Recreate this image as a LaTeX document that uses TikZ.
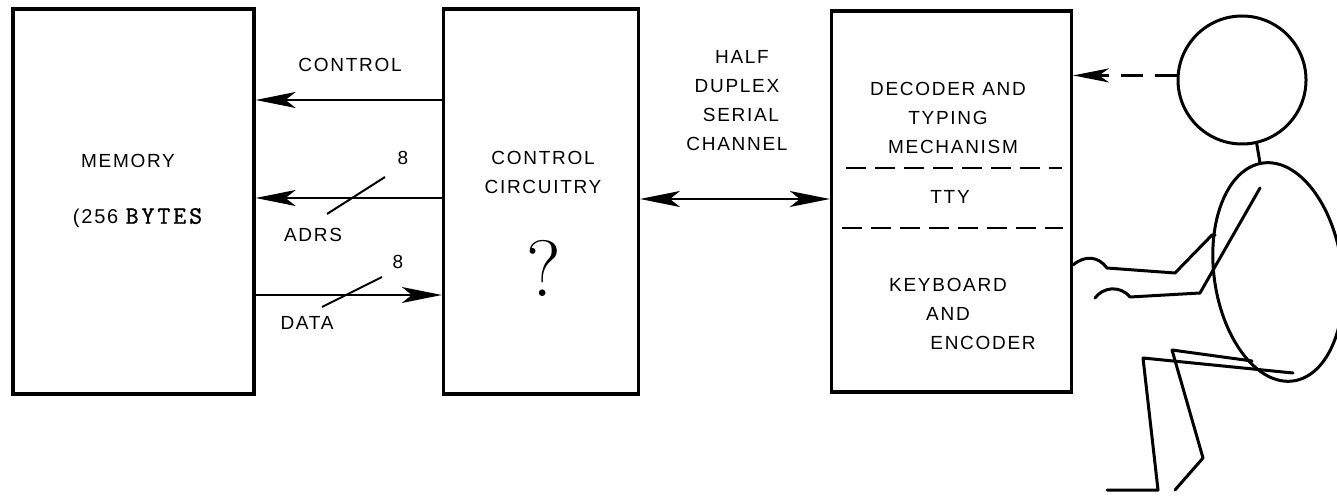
\documentclass[tikz,border=0pt]{standalone}
\usepackage{fontspec}
\newfontfamily\labelfont[LetterSpace=9]{Liberation Sans}
\newfontfamily\typewriter[LetterSpace=12,FakeBold=1.2]{Latin Modern Mono}
\usetikzlibrary{positioning,arrows.meta}

\tikzset{
  unit/.style={draw,line width=1.6pt,minimum width=#1,minimum height=192.5pt,inner sep=0pt},
  lbl/.style={font=\labelfont\fontsize{9.5}{14.5}\selectfont,align=center,inner sep=0pt},
  bus/.style={line width=0.9pt,-{Stealth[length=20pt,width=8pt,inset=5pt]}},
  duplex/.style={line width=0.9pt,{Stealth[length=20pt,width=8pt,inset=5pt]}-{Stealth[length=20pt,width=8pt,inset=5pt]}},
  sep/.style={line width=1pt,dash pattern=on 10pt off 4.5pt},
  fig/.style={line width=1.5pt,line join=round,line cap=round},
}

\begin{document}
\begin{tikzpicture}[x=0.5pt,y=-0.5pt]
    \useasboundingbox[fill=white] (0,0) rectangle (1337,496);

    \node[unit=120.5pt,anchor=north west] (mem) at (11.4,7.4) {};
    \node[unit=97.5pt,right=93.1pt of mem] (ctl) {};
    \node[unit=120pt,minimum height=190.5pt,right=94.9pt of ctl] (tty) {};

    % memory side
    \node[lbl] (memname) at (128,161) {MEMORY};
    \node[lbl] (memsize) at (137.5,218) {\fontsize{10}{10}\selectfont(256 {\typewriter\fontsize{12.5}{13}\selectfont BYTES}};

    % buses between memory and control
    \foreach \y in {100,198}
        \draw[bus] (ctl.west |- 0,\y) -- (mem.east |- 0,\y);
    \draw[bus] (mem.east |- 0,295) -- (ctl.west |- 0,295);
    \node[lbl] (ctlbus) at (350,65) {CONTROL};
    \node[lbl] (adrs) at (313,235) {ADRS};
    \node[lbl] (data) at (307,323) {DATA};
    \node[lbl] (adrsw) at (403,158) {8};
    \node[lbl] (dataw) at (398,262) {8};
    \draw[line width=1pt] (327,214) -- (385,177);
    \draw[line width=1pt] (322,307) -- (382,277);

    % control circuitry
    \node[lbl] (ctlname) at (543,172) {CONTROL\\CIRCUITRY};
    \node[font=\fontsize{40}{40}\selectfont,inner sep=0pt] (unknown) at (544,268) {?};

    % serial link
    \draw[duplex] (ctl.east |- 0,199) -- (tty.west |- 0,199);
    \node[lbl] (link) at (737,101) {\hspace*{5pt}HALF\\DUPLEX\hspace*{4pt}\\\hspace*{4pt}SERIAL\\CHANNEL};

    % teletype
    \node[lbl] (printer) at (948,118) {DECODER AND\\TYPING\\\hspace*{5pt}MECHANISM};
    \node[lbl] (ttyname) at (950,197) {TTY};
    \node[lbl] (keys) at (948,314) {KEYBOARD\\AND\\\hspace*{35pt}ENCODER};
    \foreach \y/\a/\b in {168/846/1062,228/842/1063}
        \draw[sep] (\a,\y) -- (\b,\y);

    % operator
    \node[draw,circle,line width=1.5pt,minimum size=64pt,inner sep=0pt] (head) at (1242,80) {};
    \draw[line width=1.2pt,dash pattern=on 11pt off 6pt,-{Stealth[length=18pt,width=7pt,inset=5pt]}] (head.176) -- (tty.east |- head.176);
    \coordinate (neck) at (1260,163);
    \coordinate (body) at (1278,272);
    \draw[fig] (head.-77) -- (neck);
    \draw[fig,rotate around={8:(body)}] (body) ellipse [x radius=32pt,y radius=55pt];
    \draw[fig] (tty.east |- 0,265) .. controls (1085,255) and (1098,256) .. (1107,268) -- (1175,273) -- (1212,235) -- (1215,235);
    \draw[fig] (1095,298) .. controls (1103,287) and (1120,285) .. (1130,297) -- (1200,293) -- (1260,188);
    \draw[fig] (1293,373) -- (1143,358) -- (1158,490) -- (1107,490);
    \draw[fig] (1252,361) -- (1172,350) -- (1203,458) -- (1175,490);
\end{tikzpicture}
\end{document}
